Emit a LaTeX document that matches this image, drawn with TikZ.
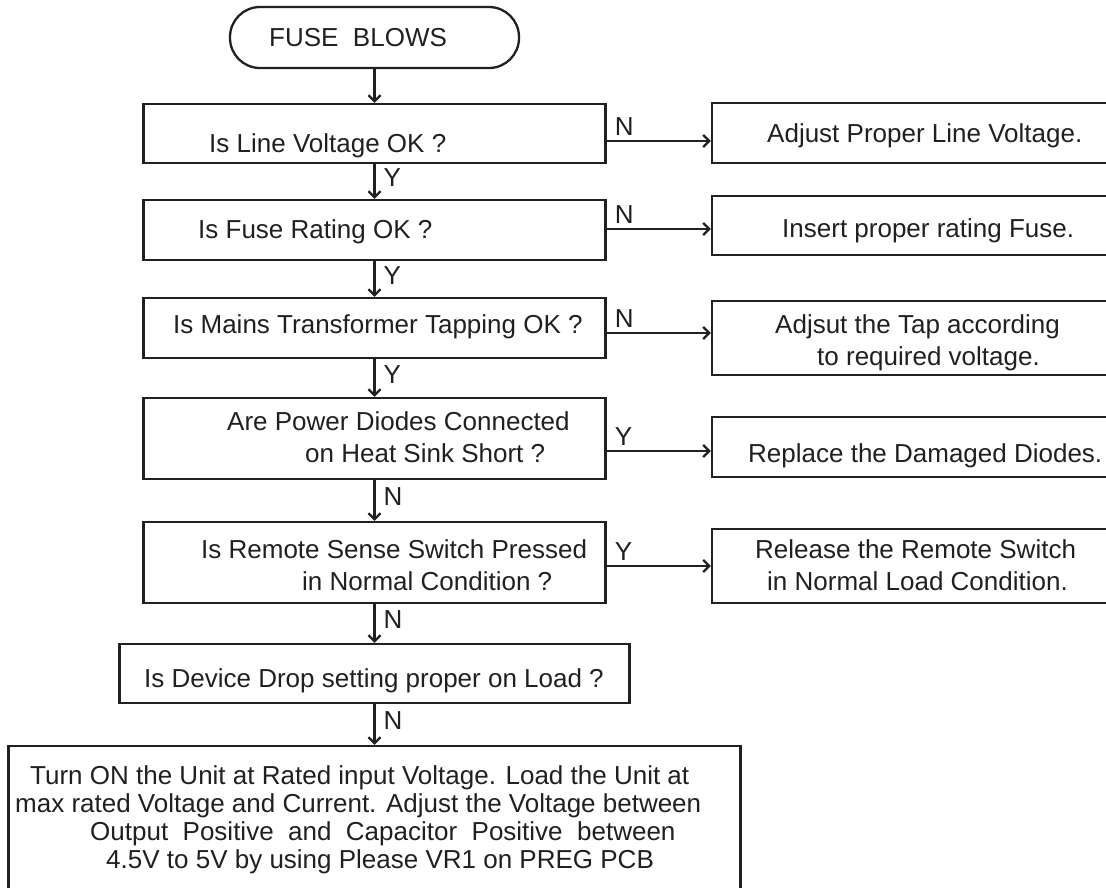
\documentclass[tikz,border=0pt]{standalone}
\usepackage{fontspec}
\setmainfont{Liberation Sans}
\usepackage{tikz}
\usetikzlibrary{arrows.meta}

\definecolor{ink}{HTML}{231F20}

\tikzset{
    box/.style={draw=ink, line width=2.3pt, rectangle, inner sep=0pt},
    term/.style={box, rounded corners=30pt},
    txt/.style={anchor=base west, align=left, inner sep=0pt, text=ink,
        font=\fontsize{26}{32}\selectfont},
    arr/.style={draw=ink, line width=2.3pt, -{Straight Barb[length=6pt,width=12pt]}},
    vlbl/.style={anchor=west, inner sep=0pt, xshift=8pt, text=ink,
        font=\fontsize{26}{32}\selectfont},
    hlbl/.style={anchor=south west, inner sep=0pt, xshift=7pt, yshift=4pt, text=ink,
        font=\fontsize{26}{32}\selectfont}
}

\begin{document}
\begin{tikzpicture}[x=1pt, y=-1pt]
    \useasboundingbox (0,0) rectangle (1106,887);
% left column
\node[term, minimum width=289pt, minimum height=61pt] (start) at (374.5,37.5) {};
\node[box, minimum width=462pt, minimum height=59pt] (q1) at (374.5,133.5) {};
\node[box, minimum width=462pt, minimum height=60pt] (q2) at (374.5,230) {};
\node[box, minimum width=462pt, minimum height=60pt] (q3) at (374.5,328) {};
\node[box, minimum width=462pt, minimum height=81pt] (q4) at (374.5,438.5) {};
\node[box, minimum width=462pt, minimum height=81pt] (q5) at (374.5,562.5) {};
\node[box, minimum width=510pt, minimum height=59pt] (q6) at (374.5,673.5) {};
\node[box, minimum width=732pt, minimum height=160pt] (q7) at (374.5,826) {};
% right column
\node[box, minimum width=420pt, minimum height=60pt] (r1) at (922,133) {};
\node[box, minimum width=420pt, minimum height=59pt] (r2) at (922,225.5) {};
\node[box, minimum width=420pt, minimum height=74pt] (r3) at (922,338) {};
\node[box, minimum width=420pt, minimum height=60pt] (r4) at (922,447) {};
\node[box, minimum width=420pt, minimum height=74pt] (r5) at (922,566) {};
% texts (base = last line)
\node[txt] (start-t) at (269,46) {FUSE\ \ BLOWS};
\node[txt] (q1-t) at (209,152) {Is Line Voltage OK ?};
\node[txt] (q2-t) at (198,238) {Is Fuse Rating OK ?};
\node[txt] (q3-t) at (173,333) {Is Mains Transformer Tapping OK ?};
\node[txt] (q4-t) at (227,462) {Are Power Diodes Connected\\\hspace*{78pt}on Heat Sink Short ?};
\node[txt] (q5-t) at (201,590) {Is Remote Sense Switch Pressed\\\hspace*{101pt}in Normal Condition ?};
\node[txt] (q6-t) at (144,687) {Is Device Drop setting proper on Load ?};
\node[txt, font=\fontsize{26}{28}\selectfont] (q7-t) at (15,868)
    {\hspace*{15pt}Turn ON the Unit at Rated input Voltage. Load the Unit at\\
     max rated Voltage and Current. Adjust the Voltage between\\
     \hspace*{75pt}Output\ \ Positive\ \ and\ \ Capacitor\ \ Positive\ \ between\\
     \hspace*{91pt}4.5V to 5V by using Please VR1 on PREG PCB};
\node[txt] (r1-t) at (767,142) {Adjust Proper Line Voltage.};
\node[txt] (r2-t) at (782,237) {Insert proper rating Fuse.};
\node[txt] (r3-t) at (775,365) {Adjsut the Tap according\\\hspace*{42pt}to required voltage.};
\node[txt] (r4-t) at (748,462) {Replace the Damaged Diodes.};
\node[txt] (r5-t) at (755,590) {Release the Remote Switch\\\hspace*{12pt}in Normal Load Condition.};
% connectors
\draw[arr] (start) -- (q1);
\draw[arr] (q1) -- (q2) node[vlbl, pos=0.4] (y1) {Y};
\draw[arr] (q2) -- (q3) node[vlbl, pos=0.4] (y2) {Y};
\draw[arr] (q3) -- (q4) node[vlbl, pos=0.4] (y3) {Y};
\draw[arr] (q4) -- (q5) node[vlbl, pos=0.4] (n4) {N};
\draw[arr] (q5) -- (q6) node[vlbl, pos=0.4] (n5) {N};
\draw[arr] (q6) -- (q7) node[vlbl, pos=0.4] (n6) {N};
\draw[arr] (q1.east |- 0,141) -- (r1.west |- 0,141) node[hlbl, pos=0] (n1) {N};
\draw[arr] (q2.east |- 0,229) -- (r2.west |- 0,229) node[hlbl, pos=0] (n2) {N};
\draw[arr] (q3.east |- 0,333) -- (r3.west |- 0,333) node[hlbl, pos=0] (n3) {N};
\draw[arr] (q4.east |- 0,451) -- (r4.west |- 0,451) node[hlbl, pos=0] (y4) {Y};
\draw[arr] (q5.east |- 0,566) -- (r5.west |- 0,566) node[hlbl, pos=0] (y5) {Y};
\end{tikzpicture}
\end{document}
